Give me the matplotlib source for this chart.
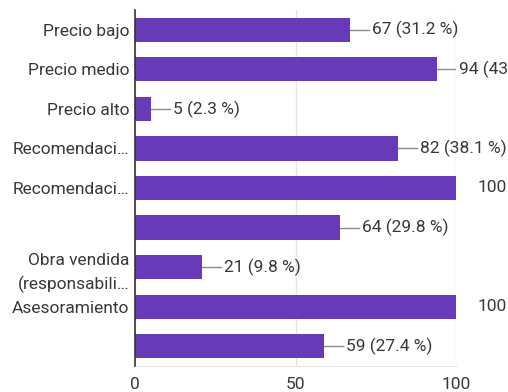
import matplotlib
matplotlib.use("Agg")
import matplotlib.pyplot as plt
from matplotlib.transforms import offset_copy

categories = [
    "Precio bajo",
    "Precio medio",
    "Precio alto",
    "Recomendaci…",
    "Recomendaci…",
    "",
    "Obra vendida\n(responsabili…",
    "Asesoramiento",
    "",
]
values = [67, 94, 5, 82, 100, 64, 21, 100, 59]
value_labels = [
    "67 (31.2 %)",
    "94 (43.7 %)",
    "5 (2.3 %)",
    "82 (38.1 %)",
    "100",
    "64 (29.8 %)",
    "21 (9.8 %)",
    "100",
    "59 (27.4 %)",
]
xticks = [0, 50, 100]

bar_color = "#673ab7"
text_color = "#383838"
fs = 12.5

plt.rcParams["font.family"] = ["Roboto", "DejaVu Sans"]

fig = plt.figure(figsize=(5.08, 3.92), dpi=100)
ax = fig.add_axes([135 / 508, 26 / 392, 321 / 508, 356 / 392])

y = list(range(len(categories)))
ax.barh(y, values, height=0.61, color=bar_color, zorder=3)

ax.set_xlim(0, 100)
ax.set_ylim(len(categories) - 0.5, -0.5)
ax.set_yticks(y)
ax.set_yticklabels(categories, fontsize=fs, color=text_color, linespacing=1.55)
ax.set_xticks(xticks)
ax.set_xticklabels([str(t) for t in xticks], fontsize=fs, color=text_color)
ax.tick_params(axis="y", length=0, pad=4)
ax.tick_params(axis="x", length=0, pad=8)

ax.grid(axis="x", color="#e6e6e6", linewidth=1, zorder=0)
for side in ["top", "right"]:
    ax.spines[side].set_visible(False)
ax.spines["bottom"].set_color("#e6e6e6")
ax.spines["left"].set_color("#333333")
ax.spines["left"].set_linewidth(1.2)
ax.spines["left"].set_zorder(4)

# value labels with a leader line from the bar end (clipped at the plot edge)
for yi, v, lab in zip(y, values, value_labels):
    x0 = ax.transData.transform((v, yi))[0]
    x1 = ax.transData.inverted().transform((x0 + 19, 0))[0]
    ax.plot([v, x1], [yi, yi], color="#8a8a8a", linewidth=1, zorder=2)
    tr = offset_copy(ax.transData, fig=fig, x=22, y=0, units="dots")
    ax.text(v, yi, lab, transform=tr, va="center", ha="left",
            fontsize=fs, color=text_color, clip_on=False)

fig.savefig("out.png", dpi=100, facecolor="white")
